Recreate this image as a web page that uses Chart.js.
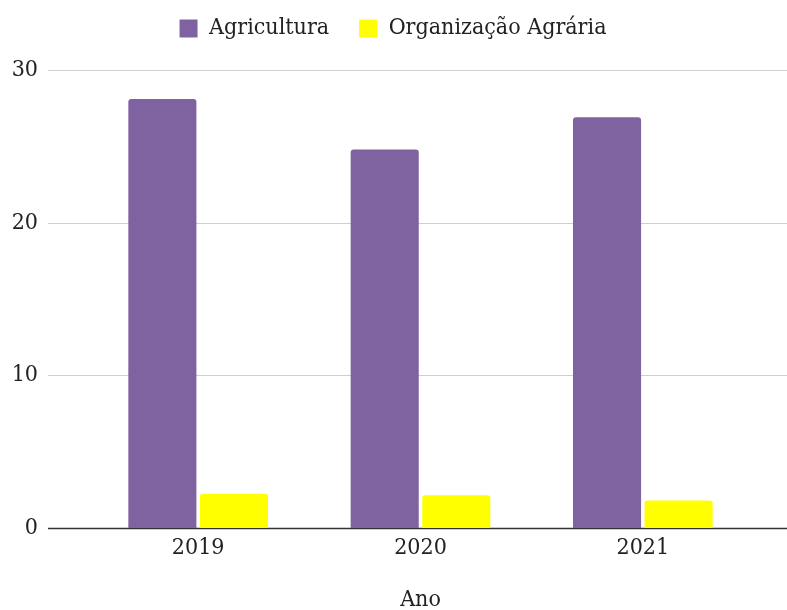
<!DOCTYPE html>
<html>
<head>
<meta charset="utf-8">
<script src="https://cdn.jsdelivr.net/npm/chart.js@4.4.1/dist/chart.umd.min.js"></script>
<style>
  html, body { margin: 0; padding: 0; background: #fff; }
  #wrap { width: 787px; height: 610px; }
</style>
</head>
<body>
<div id="wrap"><canvas id="chart"></canvas></div>
<script>
// anos e valores
const anos = ['2019', '2020', '2021'];
const agricultura = [28.1, 24.8, 26.9];
const organizacaoAgraria = [2.25, 2.15, 1.8];
const yTicks = [0, 10, 20, 30];

const FONT = "'DejaVu Serif Condensed', 'DejaVu Serif', serif";
const TEXT = '#222';

// linhas de grade horizontais mais largas que a area das barras
const fullGrid = {
    id: 'fullGrid',
    beforeDatasetsDraw(chart) {
        const ctx = chart.ctx;
        const y = chart.scales.y;
        ctx.save();
        yTicks.forEach(v => {
            const py = Math.round(y.getPixelForValue(v)) + 0.5;
            ctx.beginPath();
            ctx.strokeStyle = v === 0 ? '#333' : '#cfcfcf';
            ctx.lineWidth = v === 0 ? 1.5 : 1;
            ctx.moveTo(48, py);
            ctx.lineTo(787, py);
            ctx.stroke();
        });
        ctx.restore();
    }
};

// legenda: altura fixa e posicao ajustada
const legendBox = {
    id: 'legendBox',
    beforeInit(chart) {
        const fit = chart.legend.fit;
        chart.legend.fit = function() {
            fit.bind(chart.legend)();
            this.height = 70;
        };
    },
    afterLayout(chart) {
        const lg = chart.legend;
        lg.top -= 13; lg.bottom -= 13;
        lg.left += 16; lg.right += 16;
    }
};

window.onload = function() {
    const ctx = document.getElementById('chart').getContext('2d');
    new Chart(ctx, {
        type: 'bar',
        data: {
            labels: anos,
            datasets: [
                { label: 'Agricultura', data: agricultura, backgroundColor: '#7f63a1', borderRadius: 3 },
                { label: 'Organização Agrária', data: organizacaoAgraria, backgroundColor: '#ffff00', borderRadius: 3 }
            ]
        },
        options: {
            responsive: true,
            maintainAspectRatio: false,
            animation: false,
            categoryPercentage: 0.644,
            barPercentage: 0.951,
            layout: { padding: { top: 0, right: 33, left: 0, bottom: 0 } },
            plugins: {
                legend: {
                    position: 'top',
                    labels: {
                        boxWidth: 18, boxHeight: 18, padding: 30,
                        color: TEXT,
                        font: { family: FONT, size: 23 }
                    }
                },
                tooltip: { enabled: false }
            },
            scales: {
                x: {
                    afterFit(scale) { scale.height = 82; },
                    grid: { display: false, drawTicks: false },
                    border: { display: false },
                    ticks: { color: TEXT, padding: 6, font: { family: FONT, size: 23 } },
                    title: {
                        display: true, text: 'Ano', color: TEXT,
                        font: { family: FONT, size: 23 },
                        padding: { top: 0, bottom: -4 }
                    }
                },
                y: {
                    min: 0, max: 30,
                    afterFit(scale) { scale.width = 87; },
                    afterBuildTicks(scale) { scale.ticks = yTicks.map(v => ({ value: v })); },
                    grid: { display: false, drawTicks: false },
                    border: { display: false },
                    ticks: { color: TEXT, padding: 49, font: { family: FONT, size: 23 } }
                }
            }
        },
        plugins: [fullGrid, legendBox]
    });
};
</script>
</body>
</html>
